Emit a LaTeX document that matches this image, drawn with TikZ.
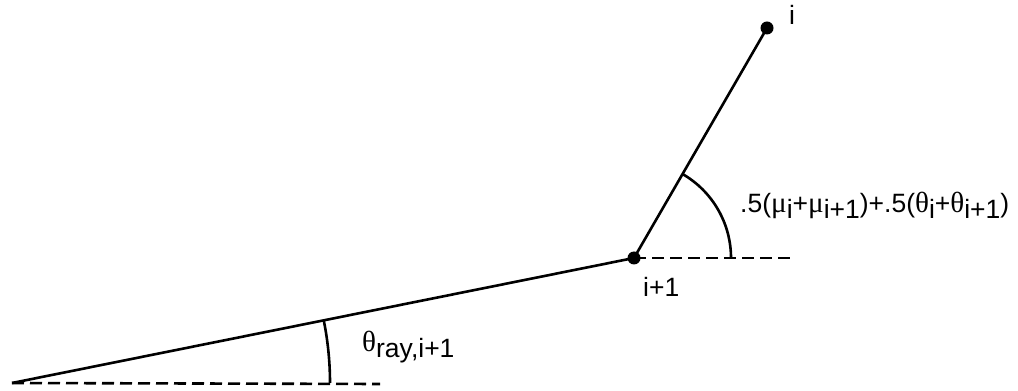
\documentclass[tikz,border=0pt]{standalone}
\usepackage{fontspec}
\setmainfont{Liberation Sans}
\newfontfamily\grk[Scale=1.1]{Liberation Serif}
\newcommand{\lowr}[1]{\raisebox{-6pt}{#1}}
\begin{document}
\begin{tikzpicture}[x=1pt,y=1pt,
  dot/.style={circle,fill=black,inner sep=0pt,minimum size=13pt},
  ln/.style={line width=2.6pt},
  dsh/.style={line width=2.6pt,dash pattern=on 12pt off 6pt},
  lbl/.style={font=\fontsize{26.5}{30}\selectfont,inner sep=0pt}]
\useasboundingbox (0,0) rectangle (1018,391);
\coordinate (o) at (12,8);
\node[dot] (a) at (634,133) {};
\node[dot] (b) at (767,363) {};
\coordinate (oe) at (380,7);
\coordinate (ae) at (790,133);
\draw[ln] (o) -- (a.center);
\draw[ln] (a.center) -- (b.center);
\draw[dsh] (o) -- (oe);
\draw[dsh] (a.center) -- (ae);
\draw[ln] (330,8) arc[start angle=0,end angle=11.36,radius=318];
\draw[ln] (731,133) arc[start angle=0,end angle=60,radius=97];
\node[lbl,anchor=base west] (lb) at (789,366) {i};
\node[lbl,anchor=base west] (la) at (643,94) {i+1};
\node[lbl,anchor=base west] (lm) at (740,178) {.5({\grk μ}\lowr{i}+{\grk μ}\lowr{i+1})+.5({\grk θ}\lowr{i}+{\grk θ}\lowr{i+1})};
\node[lbl,anchor=base west] (lt) at (362,39) {{\grk θ}\lowr{ray,i+1}};
\end{tikzpicture}
\end{document}
